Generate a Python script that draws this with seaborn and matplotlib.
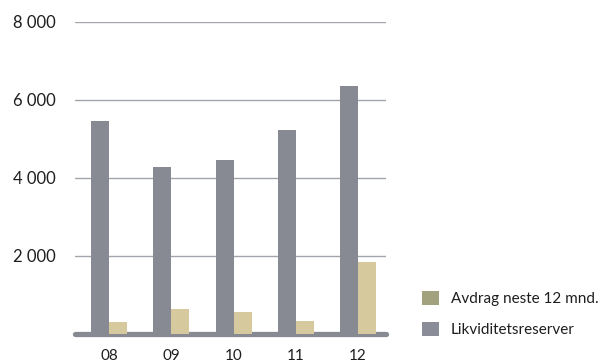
import matplotlib
matplotlib.use("Agg")
import matplotlib.pyplot as plt
from matplotlib.patches import Patch
import seaborn as sns
import pandas as pd

# Values in NOK million per year-end
years = ["08", "09", "10", "11", "12"]
likviditetsreserver = [5450, 4280, 4460, 5230, 6360]
avdrag = [300, 640, 560, 330, 1850]
y_ticks = [2000, 4000, 6000, 8000]
y_tick_labels = ["2 000", "4 000", "6 000", "8 000"]

series_names = ["Likviditetsreserver", "Avdrag neste 12 mnd."]
bar_colors = {"Likviditetsreserver": "#878a92", "Avdrag neste 12 mnd.": "#d6c99e"}
legend_colors = {"Avdrag neste 12 mnd.": "#a3a27f", "Likviditetsreserver": "#8a8d98"}

df = pd.DataFrame({
    "year": years * 2,
    "value": likviditetsreserver + avdrag,
    "serie": [series_names[0]] * len(years) + [series_names[1]] * len(years),
})

sns.set_theme(style="white")
plt.rcParams["font.family"] = ["Lato", "DejaVu Sans"]

fig = plt.figure(figsize=(6.01, 3.64), dpi=100)
ax = fig.add_axes([75 / 601, 1 - 334 / 364, (386 - 75) / 601, (334 - 22) / 364])

sns.barplot(data=df, x="year", y="value", hue="serie", hue_order=series_names,
            order=years, palette=bar_colors, width=0.58, gap=0, saturation=1,
            ax=ax, legend=False, zorder=3, linewidth=0)

ax.set_ylim(0, 8000)
ax.set_xlim(-0.55, 4.45)
ax.set_yticks(y_ticks)
ax.set_yticklabels(y_tick_labels, fontsize=12, color="#1e1e1e")
ax.tick_params(axis="y", length=0, pad=14)
ax.tick_params(axis="x", length=0, pad=10.5, labelsize=11, labelcolor="#1e1e1e")
ax.set_xlabel("")
ax.set_ylabel("")
for s in ax.spines.values():
    s.set_visible(False)

for t in y_ticks:
    ax.axhline(t, color="#a2a4ab", linewidth=1.0, zorder=1)
# thick floor band under the bars
ax.axhline(-10, color="#878a92", linewidth=3.8, zorder=2, clip_on=False)

handles = [Patch(facecolor=legend_colors[n], edgecolor="none") for n in series_names[::-1]]
fig.legend(handles, series_names[::-1], loc="upper left",
           bbox_to_anchor=(408 / 601, 1 - 277 / 364), frameon=False,
           fontsize=11, handlelength=1.1, handleheight=1.1, handletextpad=0.8,
           labelspacing=1.0, labelcolor="#1e1e1e")

fig.savefig("out.png", dpi=100)
